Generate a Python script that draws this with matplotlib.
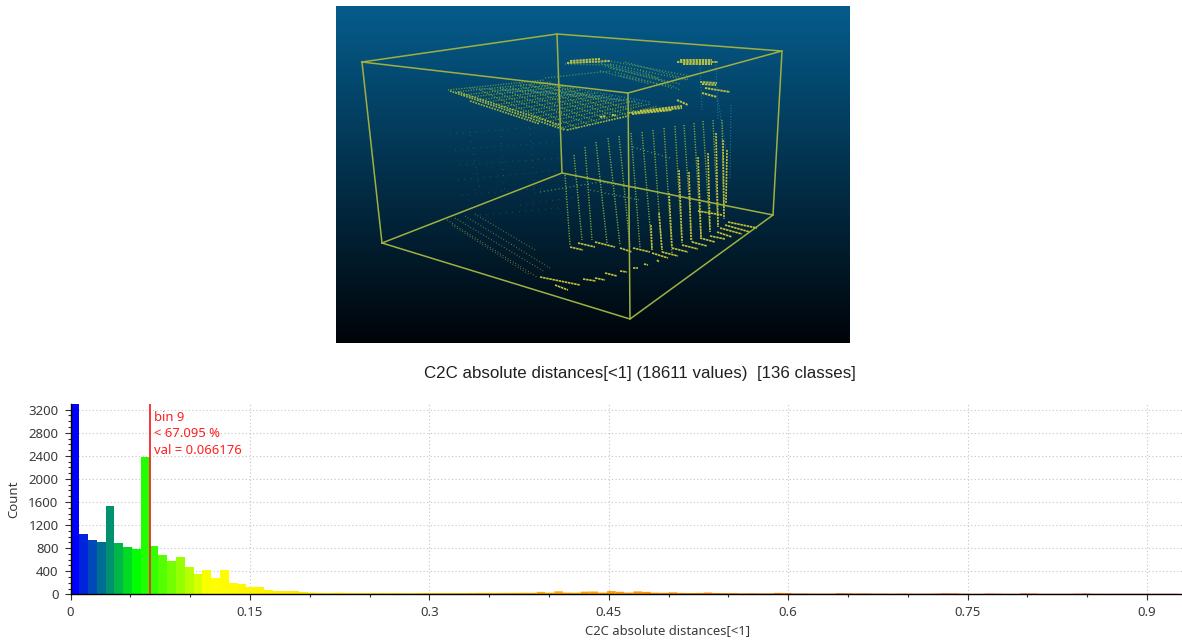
#!/usr/bin/env python3
import numpy as np
import matplotlib
matplotlib.use("Agg")
import matplotlib.pyplot as plt
from matplotlib.colors import LinearSegmentedColormap

plt.rcParams["font.family"] = ["Noto Sans", "DejaVu Sans"]

# histogram, 136 classes between 0 and 1
n_classes = 136
head_counts = [3300, 1040, 935, 905, 1525, 890, 820, 790, 2380, 845, 675, 570, 640, 480,
               350, 420, 285, 420, 200, 185, 120, 120, 80, 60, 60, 55, 35]
tail_counts = [30, 26, 24, 28, 24, 22, 22, 22, 24, 22, 22, 20, 22, 24, 22, 24, 24, 22, 24, 26,
               26, 24, 26, 26, 28, 26, 42, 28, 52, 30, 28, 46, 48, 30, 56, 44, 30, 50, 42, 28,
               26, 34, 24, 22, 24, 30, 22, 20, 20, 16, 18, 16, 16, 24, 20, 14, 14, 12, 12, 12,
               18, 16, 14, 14, 12, 12, 10, 12, 10, 10, 10, 12, 16, 14, 10, 8, 8, 12, 10, 8,
               8, 14, 12, 8, 8, 8, 8, 10, 12, 8, 8, 8, 8, 8, 8, 8, 8, 8, 8]
y_ticks = [0, 400, 800, 1200, 1600, 2000, 2400, 2800, 3200]
x_ticks = [0, 0.15, 0.3, 0.45, 0.6, 0.75, 0.9]
x_tick_labels = ["0", "0.15", "0.3", "0.45", "0.6", "0.75", "0.9"]
marker_value = 0.066176
marker_lines = ["bin 9", "< 67.095 %", "val = 0.066176"]

# 3D view, all in screen pixels of the reference
box_edges = [
    [(362, 62), (557, 34), (782, 51), (628, 93), (362, 62)],
    [(382, 243), (562, 173), (773, 215), (630, 319), (382, 243)],
    [(362, 62), (382, 243)],
    [(557, 34), (562, 173)],
    [(782, 51), (773, 215)],
    [(628, 93), (630, 319)],
]
roof_rows = [
    (560, 128, 658, 106), (553, 125, 650, 104), (545, 122, 643, 103), (538, 120, 635, 101),
    (530, 118, 628, 99), (523, 115, 620, 98), (515, 113, 612, 96), (508, 110, 605, 95),
    (500, 107, 597, 93), (493, 105, 590, 92), (485, 102, 582, 90), (478, 100, 575, 88),
    (470, 97, 567, 86), (463, 95, 560, 84), (455, 92, 552, 82), (448, 90, 545, 80),
    (480, 90, 567, 130), (490, 89, 578, 128), (500, 88, 590, 125), (510, 87, 600, 123),
    (520, 86, 610, 120), (530, 85, 620, 118), (540, 84, 630, 116), (550, 84, 640, 113),
]
roof_blue = [(500, 88, 620, 100), (520, 84, 640, 103), (540, 82, 650, 102), (470, 88, 600, 96)]
roof_bright = [(450, 91, 565, 130), (458, 92, 560, 125), (470, 101, 540, 124), (567, 130, 628, 116)]
back_roof = [
    (610, 64, 687, 80), (610, 68, 680, 84), (605, 60, 690, 76), (615, 72, 672, 88),
    (595, 62, 660, 78), (600, 71, 650, 84), (545, 78, 610, 71), (625, 62, 690, 80),
    (640, 70, 680, 90), (605, 66, 665, 82), (620, 76, 670, 86), (565, 64, 612, 65),
]
yellow_patches = [
    (567, 63, 610, 61), (570, 61, 600, 59), (677, 62, 718, 62), (680, 60, 712, 60),
    (683, 64, 712, 64), (700, 82, 717, 83), (702, 84, 716, 85), (705, 88, 730, 92),
    (702, 93, 717, 97), (677, 100, 688, 105), (628, 113, 682, 108), (632, 114, 672, 110),
    (640, 111, 682, 106), (600, 117, 606, 116), (612, 115, 616, 115),
]
scan_lines = [
    (585, 147, 592, 240), (596, 142, 607, 243), (608, 138, 620, 245), (619, 136, 630, 247),
    (631, 133, 640, 248), (642, 132, 652, 250), (653, 130, 662, 252), (664, 128, 672, 253),
    (675, 126, 682, 243), (684, 125, 692, 242), (694, 123, 701, 237), (703, 121, 710, 232),
    (713, 120, 718, 227), (722, 120, 724, 220), (574, 155, 582, 240), (565, 175, 570, 245),
]
scan_dim = [(731, 105, 730, 180), (718, 100, 726, 150), (700, 65, 702, 110), (716, 65, 718, 120)]
scan_bright = [
    (651, 225, 652, 250), (659, 213, 662, 250), (669, 193, 672, 247), (679, 170, 682, 242),
    (689, 172, 691, 240), (698, 157, 701, 237), (708, 153, 710, 232), (716, 133, 718, 227),
    (723, 140, 724, 217), (727, 150, 726, 203),
]
floor_slashes = [
    (672, 248, 688, 252), (682, 245, 698, 249), (692, 242, 707, 246), (700, 238, 715, 242),
    (710, 236, 725, 239), (717, 232, 732, 237), (720, 228, 742, 234), (725, 225, 750, 232),
    (728, 222, 757, 228), (662, 252, 678, 256), (652, 253, 668, 258), (570, 247, 583, 250),
    (578, 243, 595, 247), (595, 242, 615, 247), (620, 248, 632, 252), (633, 248, 650, 252),
    (605, 273, 617, 276), (620, 271, 627, 272), (583, 279, 596, 281), (595, 278, 605, 280),
    (540, 277, 580, 285), (555, 285, 568, 290), (633, 268, 638, 268), (644, 264, 648, 265),
    (657, 260, 659, 262), (698, 211, 722, 215),
]
floor_dim = [
    (447, 220, 537, 277), (455, 218, 545, 272), (465, 216, 550, 268), (475, 214, 535, 250),
    (452, 225, 530, 275),
]
back_floor = [(540, 192, 600, 182), (600, 182, 650, 190), (633, 147, 670, 158), (590, 190, 640, 200)]
wall_sparse = [
    (450, 134, 560, 125), (455, 150, 555, 142), (460, 165, 560, 158), (458, 180, 560, 170),
    (462, 195, 545, 188), (470, 135, 480, 190), (500, 130, 505, 195), (530, 128, 535, 195),
    (520, 205, 590, 195), (480, 215, 560, 208),
]


def dotted(ax, segments, color, lw=0.9, pattern=(0.7, 1.6), alpha=1.0):
    for x0, y0, x1, y1 in segments:
        ax.plot([x0, x1], [y0, y1], color=color, lw=lw, alpha=alpha,
                linestyle=(0, pattern), solid_capstyle="butt")


fig = plt.figure(figsize=(11.82, 6.42), dpi=100)

# top picture
ax_view = fig.add_axes([336 / 1182, 1 - 343 / 642, 513 / 1182, 337 / 642])
sky = np.zeros((256, 1, 3))
sky[:, 0, 0] = np.linspace(5, 0, 256) / 255
sky[:, 0, 1] = np.linspace(92, 4, 256) / 255
sky[:, 0, 2] = np.linspace(140, 9, 256) / 255
ax_view.imshow(sky, extent=(336, 849, 343, 6), aspect="auto", interpolation="bilinear")
dotted(ax_view, wall_sparse, "#2f8f80", lw=0.7, pattern=(0.7, 6), alpha=0.6)
dotted(ax_view, roof_blue, "#2a93a0", lw=1.0, pattern=(0.8, 1.4), alpha=0.8)
dotted(ax_view, roof_rows, "#7fa936", lw=1.0, pattern=(0.8, 1.1), alpha=0.8)
dotted(ax_view, roof_bright, "#b4c43a", lw=1.2, pattern=(1, 0.7), alpha=0.9)
dotted(ax_view, back_roof, "#5f9f50", lw=1.0, pattern=(0.8, 1.4), alpha=0.8)
dotted(ax_view, yellow_patches, "#cdcf3c", lw=1.4, pattern=(1.2, 0.4), alpha=0.9)
dotted(ax_view, back_floor, "#4f9a60", lw=0.9, pattern=(0.8, 2.2))
dotted(ax_view, floor_dim, "#8f8f3a", lw=0.8, pattern=(0.7, 2), alpha=0.9)
dotted(ax_view, scan_dim, "#2f86a0", lw=0.8, pattern=(0.7, 1.8))
dotted(ax_view, scan_lines, "#7fa83c", lw=1.0, pattern=(0.9, 1.0))
dotted(ax_view, scan_bright, "#bdb83c", lw=1.2, pattern=(1.3, 0.5))
dotted(ax_view, floor_slashes, "#c6c43a", lw=1.2, pattern=(1.5, 0.4))
for edge in box_edges:
    xs, ys = zip(*edge)
    ax_view.plot(xs, ys, color="#9fb040", lw=1.1)
ax_view.set_xlim(336, 849)
ax_view.set_ylim(343, 6)
ax_view.axis("off")

fig.text(640 / 1182, 1 - 374 / 642, "C2C absolute distances[<1] (18611 values)  [136 classes]",
         family="Liberation Sans", fontsize=12.2, color="#202020", ha="center", va="center")

# histogram
counts = np.array(head_counts + tail_counts, dtype=float)
edges = np.linspace(0, 1, n_classes + 1)
centers = (edges[:-1] + edges[1:]) / 2
bar_cmap = LinearSegmentedColormap.from_list(
    "bgyr", [(0, "#0000ff"), (0.055, "#00ff00"), (0.115, "#ffff00"), (1, "#ff0000")])

ax = fig.add_axes([70.5 / 1182, 1 - 594.3 / 642, (1182 - 70.5) / 1182, 190.3 / 642])
bars = ax.bar(edges[:len(counts)], counts, width=1 / n_classes, align="edge",
              color=bar_cmap(centers[:len(counts)]), linewidth=0, zorder=2)
# low bars only, the tall ones keep pixel snapping so there are no seams between them
for bar in bars[len(head_counts):]:
    bar.set_snap(False)
ax.axvline(marker_value, color="#f8262a", lw=1.3, zorder=3)
ax.text(marker_value + 0.0036, 2779, "\n".join(marker_lines), color="#ff2020", fontsize=9.4,
        linespacing=1.33, va="center", ha="left", zorder=4)

ax.set_xlim(0, 0.9293)
ax.set_ylim(0, 3299)
ax.set_xticks(x_ticks)
ax.set_xticklabels(x_tick_labels)
ax.set_yticks(y_ticks)
ax.set_xticks(np.arange(0.05, 0.93, 0.05), minor=True)
ax.set_yticks(np.arange(100, 3300, 100), minor=True)
ax.grid(True, which="major", color="#c4c4c4", lw=0.8, linestyle=(0, (1, 2.2)), zorder=0)
ax.set_axisbelow(True)
ax.spines["top"].set_visible(False)
ax.spines["right"].set_visible(False)
ax.spines["left"].set_linewidth(1.0)
ax.spines["bottom"].set_linewidth(1.0)
ax.tick_params(axis="both", which="major", length=4.2, width=0.8, labelsize=9.5,
               labelcolor="#3a3a3a", color="#303030", pad=4.5)
ax.tick_params(axis="both", which="minor", length=2.5, width=0.8, color="#303030")
ax.set_ylabel("Count", fontsize=9.5, color="#3a3a3a", labelpad=6)

fig.text(668 / 1182, 1 - 631 / 642, "C2C absolute distances[<1]", fontsize=9.4,
         color="#3a3a3a", ha="center", va="center")

fig.savefig("out.png", dpi=100)
